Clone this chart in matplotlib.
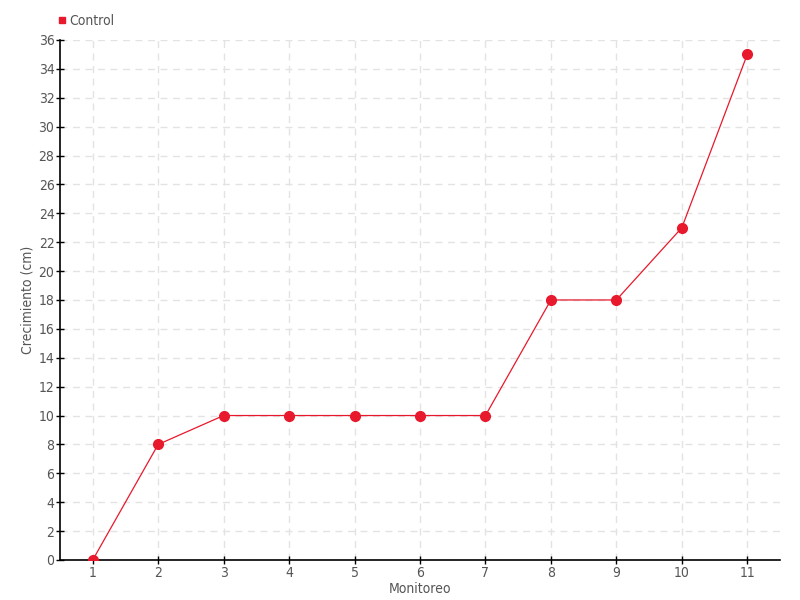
import matplotlib
matplotlib.use("Agg")
import matplotlib.pyplot as plt
from matplotlib.lines import Line2D

monitoreo = [1, 2, 3, 4, 5, 6, 7, 8, 9, 10, 11]
control = [0, 8, 10, 10, 10, 10, 10, 18, 18, 23, 35]
y_ticks = list(range(0, 37, 2))

plt.rcParams['font.family'] = ['DejaVu Sans']
plt.rcParams['font.stretch'] = 'condensed'
text_color = '#555555'
red = '#e8192c'

fig = plt.figure(figsize=(8, 6), dpi=100)
ax = fig.add_axes([0.075, 0.0667, 0.9, 0.8667])

ax.plot(monitoreo, control, color=red, linewidth=0.9, marker='o',
        markersize=7, markerfacecolor=red, markeredgecolor=red, zorder=3)

ax.set_xlim(0.5, 11.5)
ax.set_ylim(0, 36)
ax.set_xticks(monitoreo)
ax.set_yticks(y_ticks)
ax.grid(True, linestyle=(0, (5, 4)), color='#e3e3e3', linewidth=1)
ax.set_axisbelow(True)

for s in ['top', 'right']:
    ax.spines[s].set_visible(False)
for s in ['left', 'bottom']:
    ax.spines[s].set_color('black')
    ax.spines[s].set_linewidth(1.2)

ax.tick_params(axis='both', direction='inout', length=6, width=1,
               colors='black', labelcolor=text_color, labelsize=10, pad=1)

ax.set_xlabel('Monitoreo', color=text_color, fontsize=10)
ax.set_ylabel('Crecimiento (cm)', color=text_color, fontsize=10)
ax.xaxis.set_label_coords(0.5, -0.043)
ax.yaxis.set_label_coords(-0.035, 0.5)

handle = Line2D([], [], color=red, marker='s', linestyle='none', markersize=5)
fig.legend([handle], ['Control'], loc='upper left', bbox_to_anchor=(0.055, 0.998),
           frameon=False, handletextpad=0.1, fontsize=10, labelcolor=text_color,
           handlelength=0.8)

fig.savefig('out.png', dpi=100)
